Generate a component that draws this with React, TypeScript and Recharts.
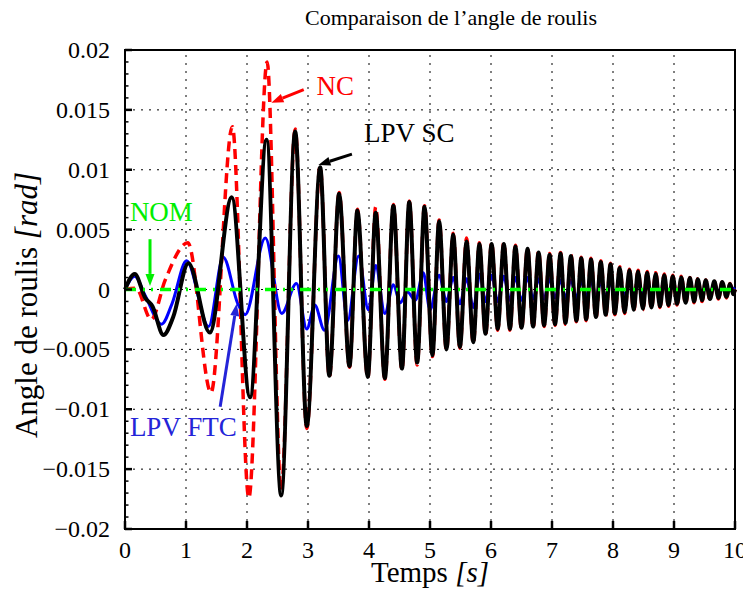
import React from "react";
import {
  LineChart,
  Line,
  XAxis,
  YAxis,
  ReferenceLine,
  ReferenceArea,
  ReferenceDot,
} from "recharts";

// [time (s), roll angle (rad)]: extrema of each oscillation
const nc: [number, number][] = [
  [0, 0], [0.18, 0.0001], [0.43, -0.0025], [0.66, 0.0008], [1.03, 0.0039], [1.41, -0.0086],
  [1.76, 0.0136], [2.03, -0.0174], [2.33, 0.019], [2.56, -0.0168], [2.79, 0.0134], [2.98, -0.0116],
  [3.2, 0.0103], [3.35, -0.0073], [3.51, 0.0081], [3.68, -0.0065], [3.81, 0.0067], [3.98, -0.0074],
  [4.11, 0.0069], [4.26, -0.0075], [4.4, 0.0071], [4.54, -0.0067], [4.66, 0.0074], [4.79, -0.0063],
  [4.91, 0.007], [5.04, -0.0056], [5.15, 0.0058], [5.27, -0.0051], [5.38, 0.0047], [5.49, -0.0049],
  [5.6, 0.0043], [5.71, -0.0045], [5.81, 0.0039], [5.91, -0.0038], [6.01, 0.0039], [6.11, -0.0034],
  [6.21, 0.0039], [6.31, -0.0034], [6.4, 0.0037], [6.5, -0.0033], [6.6, 0.0035], [6.69, -0.0032],
  [6.78, 0.0032], [6.87, -0.0031], [6.96, 0.003], [7.05, -0.003], [7.14, 0.0031], [7.22, -0.0029],
  [7.31, 0.0029], [7.4, -0.0027], [7.48, 0.0027], [7.56, -0.0026], [7.64, 0.0026], [7.72, -0.0024],
  [7.8, 0.0024], [7.88, -0.0022], [7.96, 0.0022], [8.03, -0.0021], [8.11, 0.0019], [8.19, -0.002],
  [8.27, 0.0017], [8.34, -0.0018], [8.41, 0.0016], [8.49, -0.0017], [8.56, 0.0015], [8.63, -0.0016],
  [8.7, 0.0014], [8.77, -0.0015], [8.84, 0.0013], [8.91, -0.0014], [8.98, 0.0012], [9.05, -0.0013],
  [9.12, 0.0011], [9.19, -0.0012], [9.26, 0.001], [9.33, -0.0011], [9.39, 0.0009], [9.46, -0.001],
  [9.52, 0.0008], [9.59, -0.0009], [9.66, 0.0007], [9.73, -0.0008], [9.79, 0.0006], [9.86, -0.0007],
  [9.92, 0.0005], [9.97, -0.0004], [10, 0],
];

const lpvSc: [number, number][] = [
  [0, 0], [0.16, 0.0013], [0.33, -0.0007], [0.45, -0.0014], [0.63, -0.0038], [0.79, -0.0023],
  [1.04, 0.0022], [1.39, -0.0036], [1.75, 0.0077], [2.05, -0.009], [2.32, 0.0125], [2.56, -0.0172],
  [2.79, 0.0132], [2.98, -0.0114], [3.2, 0.0102], [3.35, -0.0072], [3.51, 0.008], [3.68, -0.0064],
  [3.81, 0.0066], [3.98, -0.0073], [4.11, 0.0064], [4.26, -0.0074], [4.4, 0.007], [4.54, -0.0066],
  [4.66, 0.0073], [4.79, -0.0061], [4.91, 0.0069], [5.04, -0.0055], [5.15, 0.0057], [5.27, -0.005],
  [5.38, 0.0046], [5.49, -0.0048], [5.6, 0.004], [5.71, -0.0044], [5.81, 0.0038], [5.91, -0.0037],
  [6.01, 0.0038], [6.11, -0.0033], [6.21, 0.0038], [6.31, -0.0033], [6.4, 0.0036], [6.5, -0.0032],
  [6.6, 0.0034], [6.69, -0.0031], [6.78, 0.0031], [6.87, -0.003], [6.96, 0.0029], [7.05, -0.0029],
  [7.14, 0.003], [7.22, -0.0028], [7.31, 0.0028], [7.4, -0.0026], [7.48, 0.0026], [7.56, -0.0025],
  [7.64, 0.0025], [7.72, -0.0023], [7.8, 0.0023], [7.88, -0.0021], [7.96, 0.0021], [8.03, -0.002],
  [8.11, 0.0018], [8.19, -0.0019], [8.27, 0.0016], [8.34, -0.0017], [8.41, 0.0015], [8.49, -0.0016],
  [8.56, 0.0014], [8.63, -0.0015], [8.7, 0.0013], [8.77, -0.0014], [8.84, 0.0012], [8.91, -0.0013],
  [8.98, 0.0011], [9.05, -0.0012], [9.12, 0.001], [9.19, -0.0011], [9.26, 0.00095], [9.33, -0.001],
  [9.39, 0.00085], [9.46, -0.0009], [9.52, 0.00077], [9.59, -0.0008], [9.66, 0.00068], [9.73, -0.0007],
  [9.79, 0.00063], [9.86, -0.0006], [9.92, 0.00045], [9.97, -0.0004], [10, 0],
];

const lpvFtc: [number, number][] = [
  [0, 0], [0.16, 0.0011], [0.33, -0.0005], [0.6, -0.0029], [0.77, -0.0012], [1.01, 0.0024],
  [1.37, -0.0031], [1.61, 0.0027], [1.85, -0.0012], [1.97, -0.0021], [2.3, 0.0043], [2.57, -0.002],
  [2.81, 0.0005], [2.98, -0.0033], [3.11, -0.0013], [3.27, -0.0034], [3.5, 0.0028], [3.65, -0.0026],
  [3.83, 0.0028], [3.99, -0.0017], [4.11, 0.002], [4.26, -0.002], [4.4, 0.0004], [4.51, -0.0011],
  [4.63, -0.0002], [4.76, -0.0009], [4.89, 0.0014], [5.0, -0.0017], [5.15, 0.0012], [5.27, -0.001],
  [5.38, 0.001], [5.49, -0.0012], [5.6, 0.0009], [5.71, -0.0015], [5.82, 0.0013], [5.91, -0.001],
  [6.01, 0.0012], [6.11, -0.001], [6.21, 0.0011], [6.31, -0.0009], [6.4, 0.001], [6.5, -0.0009],
  [6.6, 0.001], [6.69, -0.0008], [6.78, 0.0009], [6.87, -0.0008], [6.96, 0.0009], [7.05, -0.0007],
  [7.14, 0.0008], [7.22, -0.0007], [7.31, 0.0008], [7.4, -0.0007], [7.48, 0.0007], [7.56, -0.0006],
  [7.64, 0.0007], [7.72, -0.0006], [7.8, 0.0006], [7.88, -0.0006], [7.96, 0.0006], [8.03, -0.0005],
  [8.11, 0.0006], [8.19, -0.0005], [8.27, 0.0005], [8.34, -0.0005], [8.41, 0.0005], [8.49, -0.0004],
  [8.56, 0.0005], [8.63, -0.0004], [8.7, 0.0004], [8.77, -0.0004], [8.84, 0.0004], [8.91, -0.0004],
  [8.98, 0.0004], [9.05, -0.0003], [9.12, 0.0004], [9.19, -0.0003], [9.26, 0.0003], [9.33, -0.0003],
  [9.39, 0.0003], [9.46, -0.0003], [9.52, 0.0003], [9.59, -0.0002], [9.66, 0.0003], [9.73, -0.0002],
  [9.79, 0.0002], [9.86, -0.0002], [9.92, 0.0002], [10, 0],
];

const nom: [number, number][] = [[0, 0], [10, 0]];

const xTicks = [0, 1, 2, 3, 4, 5, 6, 7, 8, 9, 10];
const yTicks = [-0.02, -0.015, -0.01, -0.005, 0, 0.005, 0.01, 0.015, 0.02];
// minor ticks every 0.001 on the roll axis
const yMinor: number[] = [];
for (let k = -20; k <= 20; k++) yMinor.push(k / 1000);

const FONT = '"Liberation Serif", "Times New Roman", Times, serif';
const BLUE_TXT = "#2424d8";
const GREEN_TXT = "#00ee00";

const rows = (pts: [number, number][]) => pts.map(([t, v]) => ({ t, v }));

const fmtY = (v: number) => (v < 0 ? "\u2212" + String(-v) : String(v));
const isMajorY = (v: number) => yTicks.some((m) => Math.abs(m - v) < 1e-9);

const tickText = { fontFamily: FONT, fontSize: 24, fill: "#000" };

const XTick = (p: any) => {
  const { x, y, payload } = p;
  return (
    <g>
      <line x1={x} y1={y - 12} x2={x} y2={y - 20} stroke="#000" strokeWidth={2.5} />
      <text x={x} y={y} dy="0.71em" textAnchor="middle" style={tickText}>
        {payload.value}
      </text>
    </g>
  );
};

const YTick = (p: any) => {
  const { x, y, payload } = p;
  const ax = x + 15;
  if (!isMajorY(payload.value)) {
    return <line x1={ax} y1={y} x2={ax + 3.5} y2={y} stroke="#000" strokeWidth={1.5} />;
  }
  return (
    <g>
      <line x1={ax} y1={y} x2={ax + 7} y2={y} stroke="#000" strokeWidth={2.5} />
      <text x={x} y={y} dominantBaseline="central" textAnchor="end" style={tickText}>
        {fmtY(payload.value)}
      </text>
    </g>
  );
};

const arrow = (color: string) => (p: any) => {
  const { x1, y1, x2, y2 } = p;
  const a = Math.atan2(y2 - y1, x2 - x1);
  const len = 12;
  const w = 4.5;
  const bx = x2 - len * Math.cos(a);
  const by = y2 - len * Math.sin(a);
  const nx = -Math.sin(a) * w;
  const ny = Math.cos(a) * w;
  return (
    <g>
      <line x1={x1} y1={y1} x2={bx} y2={by} stroke={color} strokeWidth={3} />
      <polygon points={`${x2},${y2} ${bx + nx},${by + ny} ${bx - nx},${by - ny}`} fill={color} />
    </g>
  );
};

const label = (text: string, color: string) => (p: any) => (
  <text x={p.cx} y={p.cy} fill={color} dominantBaseline="central"
    style={{ fontFamily: FONT, fontSize: 27 }}>
    {text}
  </text>
);

export default function App() {
  return (
    <div style={{ position: "absolute", left: 0, top: 0, width: 743, height: 590, background: "#fff",
      fontFamily: FONT }}>
      <LineChart width={743} height={590} margin={{ top: 50, right: 8, bottom: 21, left: 0 }}>
        <XAxis
          type="number"
          dataKey="t"
          domain={[0, 10]}
          ticks={xTicks}
          interval={0}
          height={40}
          tickSize={0}
          tickMargin={12}
          tickLine={false}
          axisLine={{ stroke: "#000", strokeWidth: 2 }}
          tick={<XTick />}
        />
        <YAxis
          type="number"
          domain={[-0.02, 0.02]}
          ticks={yMinor}
          interval={0}
          width={125}
          tickSize={0}
          tickMargin={15}
          tickLine={false}
          axisLine={{ stroke: "#000", strokeWidth: 2 }}
          tick={<YTick />}
        />
        {xTicks.slice(1, -1).map((x) => (
          <ReferenceLine key={"gx" + x} x={x} stroke="#000" strokeWidth={1} strokeDasharray="2 6" />
        ))}
        {yTicks.slice(1, -1).map((y) => (
          <ReferenceLine key={"gy" + y} y={y} stroke="#000" strokeWidth={1} strokeDasharray="2 6" />
        ))}
        <ReferenceArea x1={0} x2={10} y1={-0.02} y2={0.02} fill="none" stroke="#000" strokeWidth={2} />

        <Line data={rows(lpvFtc)} dataKey="v" type="monotone" stroke="#0000ff" strokeWidth={3}
          dot={false} isAnimationActive={false} />
        <Line data={rows(nc)} dataKey="v" type="monotone" stroke="#ff0000" strokeWidth={3.5}
          strokeDasharray="10 6" dot={false} isAnimationActive={false} />
        <Line data={rows(lpvSc)} dataKey="v" type="monotone" stroke="#000" strokeWidth={4}
          dot={false} isAnimationActive={false} />
        <Line data={rows(nom)} dataKey="v" type="linear" stroke="#00ff00" strokeWidth={3.5}
          strokeDasharray="11 7 2 6 2 7" dot={false} isAnimationActive={false} />

        <ReferenceLine segment={[{ x: 2.93, y: 0.0167 }, { x: 2.4, y: 0.0156 }]} shape={arrow("#ff0000")} />
        <ReferenceDot x={3.14} y={0.017} r={0} shape={label("NC", "#ff0000")} />
        <ReferenceLine segment={[{ x: 3.72, y: 0.0113 }, { x: 3.17, y: 0.0104 }]} shape={arrow("#000")} />
        <ReferenceDot x={3.92} y={0.0131} r={0} shape={label("LPV SC", "#000")} />
        <ReferenceLine segment={[{ x: 0.41, y: 0.0042 }, { x: 0.41, y: 0.0003 }]} shape={arrow(GREEN_TXT)} />
        <ReferenceDot x={0.08} y={0.0065} r={0} shape={label("NOM", GREEN_TXT)} />
        <ReferenceLine segment={[{ x: 1.56, y: -0.0098 }, { x: 1.83, y: -0.0012 }]} shape={arrow(BLUE_TXT)} />
        <ReferenceDot x={0.08} y={-0.0115} r={0} shape={label("LPV FTC", BLUE_TXT)} />
      </LineChart>
      <svg width={743} height={590} style={{ position: "absolute", left: 0, top: 0, pointerEvents: "none" }}>
        <text x={451} y={25} textAnchor="middle" style={{ fontFamily: FONT, fontSize: 22 }} fill="#000">
          Comparaison de l’angle de roulis
        </text>
        <text x={430} y={582} textAnchor="middle" style={{ fontFamily: FONT, fontSize: 29 }} fill="#000">
          Temps <tspan fontStyle="italic">[s]</tspan>
        </text>
        <text x={37} y={305} transform="rotate(-90 37 305)" textAnchor="middle"
          style={{ fontFamily: FONT, fontSize: 31 }} fill="#000">
          Angle de roulis <tspan fontStyle="italic">[rad]</tspan>
        </text>
      </svg>
    </div>
  );
}
